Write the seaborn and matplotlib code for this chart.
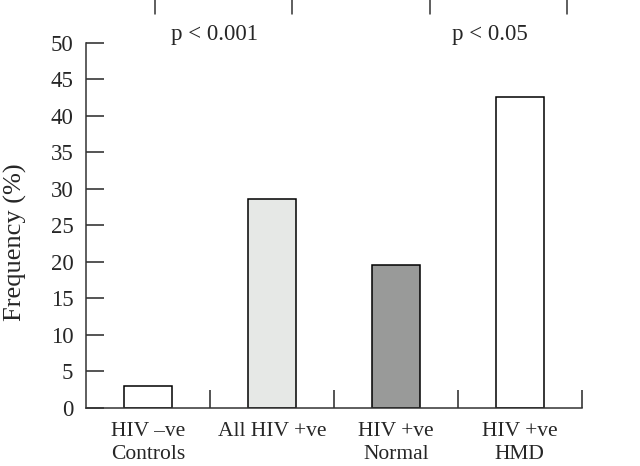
import matplotlib
matplotlib.use("Agg")
import matplotlib.pyplot as plt
import seaborn as sns
import pandas as pd

# Data
groups = ["HIV \u2013ve\nControls", "All HIV +ve", "HIV +ve\nNormal", "HIV +ve\nHMD"]
frequency = [3.0, 28.6, 19.6, 42.6]
bar_colours = ["#ffffff", "#e6e8e6", "#999a99", "#ffffff"]

# Significance brackets (start, end in category units) and their labels
bracket_spans = [(0.06, 1.16), (2.28, 3.38)]
bracket_labels = ["p < 0.001", "p < 0.05"]

df = pd.DataFrame({"group": groups, "freq": frequency})

sns.set_style("ticks")
plt.rcParams["font.family"] = ["Liberation Serif", "DejaVu Serif"]

fig = plt.figure(figsize=(6.4, 4.66), dpi=100)
ax = fig.add_axes([0.134, 0.1245, 0.775, 0.7835])

sns.barplot(data=df, x="group", y="freq", hue="group", palette=bar_colours,
            legend=False, width=0.39, edgecolor="black", linewidth=1.1,
            saturation=1, ax=ax)

ax.set_xlim(-0.5, 3.5)
ax.set_ylim(0, 50)
ax.set_yticks(range(0, 51, 5))
ax.set_xlabel("")
ax.set_ylabel("Frequency (%)", fontsize=19)
ax.yaxis.set_label_coords(-0.118, 0.455)

# Inward ticks, separators between groups along the x axis
ax.tick_params(axis="y", direction="in", length=13, width=1.1, labelsize=16.5, pad=9)
ax.tick_params(axis="x", which="major", length=0, labelsize=15.5, pad=10)
ax.set_xticks([0.5, 1.5, 2.5, 3.5], minor=True)
ax.tick_params(axis="x", which="minor", direction="in", length=13, width=1.1)
for lab in ax.get_xticklabels():
    lab.set_linespacing(1.3)

sns.despine(ax=ax)
for side in ["left", "bottom"]:
    ax.spines[side].set_linewidth(1.1)
    ax.spines[side].set_color("#333333")

# Significance brackets above the plot
for (x0, x1), label in zip(bracket_spans, bracket_labels):
    ax.plot([x0, x0, x1, x1], [54.0, 56.2, 56.2, 54.0], color="#333333",
            lw=1.1, clip_on=False)
    ax.text((x0 + x1) / 2 - 0.075, 50.4, label, ha="center", va="baseline",
            fontsize=16.5)

fig.savefig("out.png", dpi=100)
plt.close()
